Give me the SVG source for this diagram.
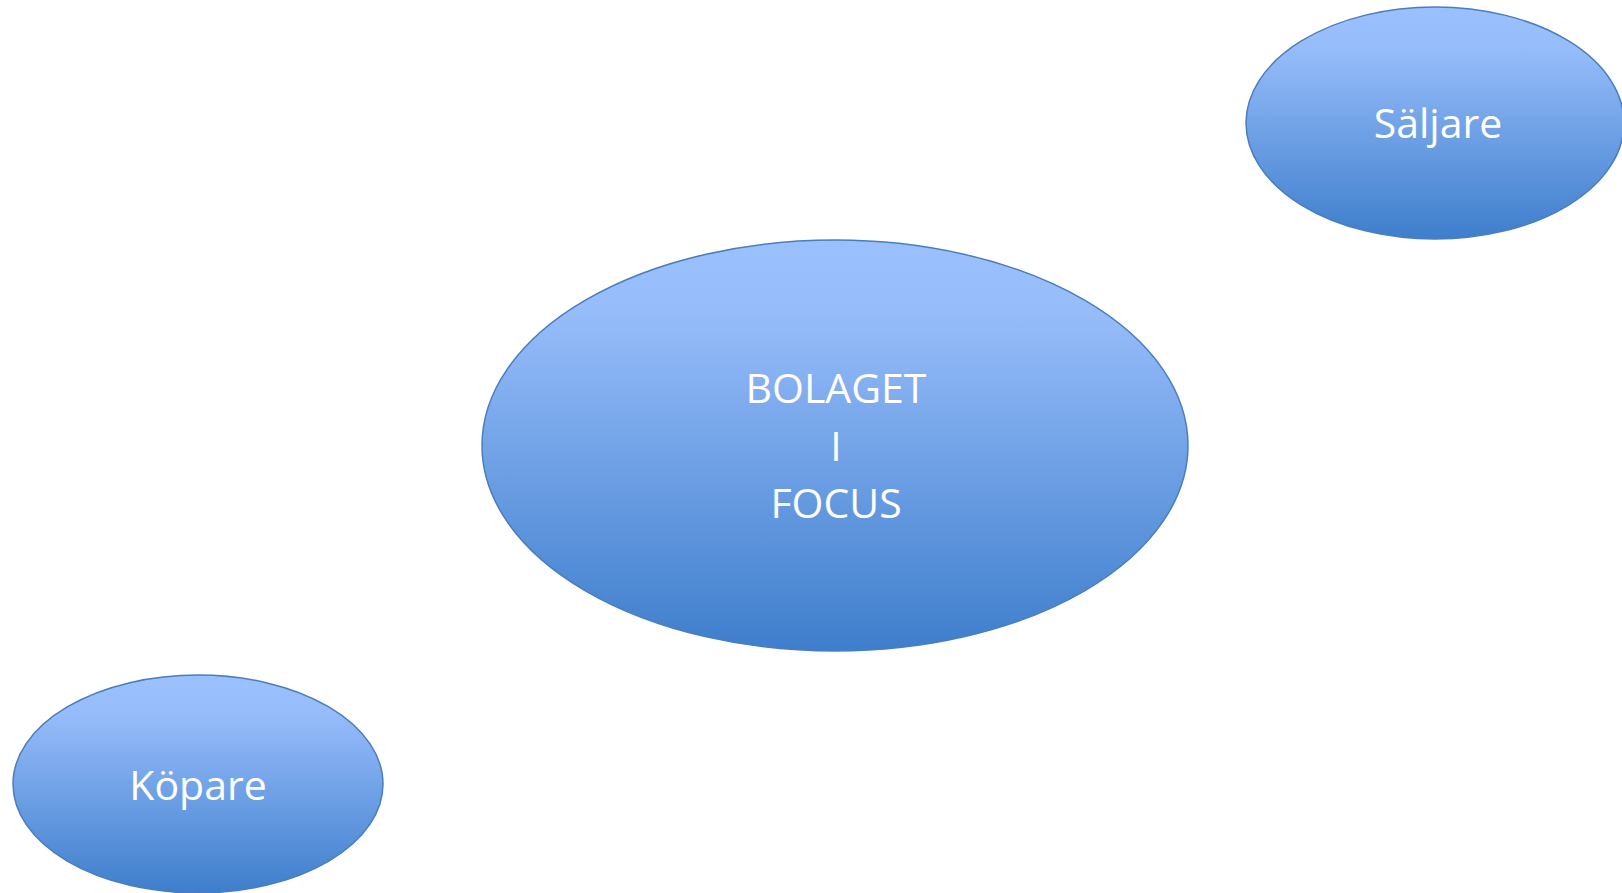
<svg xmlns="http://www.w3.org/2000/svg" width="1622" height="893" viewBox="0 0 1622 893">
<defs>
<linearGradient id="g" x1="0" y1="0" x2="0" y2="1">
<stop offset="0" stop-color="#9AC0FE"/>
<stop offset="0.18" stop-color="#96BCFA"/>
<stop offset="1" stop-color="#3E7ECC"/>
</linearGradient>
<style>
.n{fill:url(#g);stroke:#4A7EBB;stroke-width:1.5}
.t{font-family:"Open Sans","Noto Sans","DejaVu Sans",sans-serif;font-size:41px;fill:#FFFFFF;text-anchor:middle}
</style>
</defs>
<rect width="1622" height="893" fill="#FFFFFF"/>
<g id="connectors"></g>
<g id="saljare">
<ellipse class="n" cx="1435" cy="123" rx="189" ry="116"/>
<text class="t" x="1438" y="138">Säljare</text>
</g>
<g id="bolaget">
<ellipse class="n" cx="835" cy="445.5" rx="353" ry="205.5"/>
<text class="t" x="836" y="403">BOLAGET</text>
<text class="t" x="836" y="461">I</text>
<text class="t" x="836" y="518">FOCUS</text>
</g>
<g id="kopare">
<ellipse class="n" cx="198" cy="784" rx="185" ry="109"/>
<text class="t" x="198" y="800">Köpare</text>
</g>
</svg>
